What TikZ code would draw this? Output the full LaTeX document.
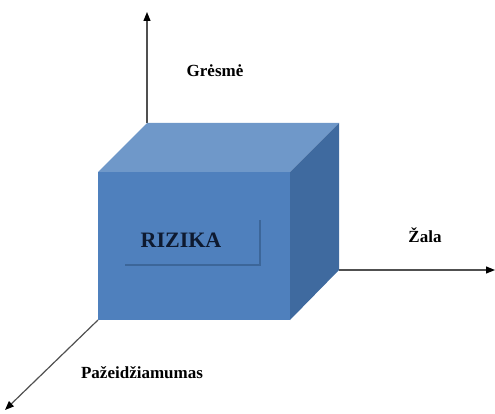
\documentclass[tikz,border=0pt]{standalone}
\usepackage{fontspec}
\setmainfont{Liberation Serif}
\usetikzlibrary{arrows.meta}
\definecolor{frontblue}{HTML}{4F80BD}
\definecolor{topblue}{HTML}{6F98C9}
\definecolor{sideblue}{HTML}{3F6A9F}
\definecolor{innerline}{HTML}{3C6699}
\definecolor{axisgray}{HTML}{505050}
\definecolor{navytext}{HTML}{0E1A30}
\tikzset{
  axis/.style={draw=axisgray, line width=1.2pt, -{Triangle[length=9pt,width=7pt,color=black]}},
  axislabel/.style={font=\fontsize{17}{20}\selectfont\bfseries, text=black, inner sep=0pt, anchor=base},
  face/.style={draw=none},
}
\begin{document}
\begin{tikzpicture}[x=1pt,y=-1pt]
\useasboundingbox (0,0) rectangle (495,414);
% cube corners
\coordinate (ftl) at (98,172);
\coordinate (ftr) at (290,172);
\coordinate (fbr) at (290,320);
\coordinate (fbl) at (98,320);
\coordinate (btl) at (147,123);
\coordinate (btr) at (339,123);
\coordinate (bbr) at (339,270);
% axis ends
\coordinate (vtip) at (147,12);
\coordinate (htip) at (495,270);
\coordinate (dtip) at (5,410);
% axes
\draw[axis] (btl) -- (vtip);
\draw[axis] (bbr) -- (htip);
\draw[axis] (fbl) -- (dtip);
% faces
\fill[face, fill=frontblue] (ftl) -- (ftr) -- (fbr) -- (fbl) -- cycle;
\fill[face, fill=topblue] (ftl) -- (btl) -- (btr) -- (ftr) -- cycle;
\fill[face, fill=sideblue] (ftr) -- (btr) -- (bbr) -- (fbr) -- cycle;
% inner label frame with shadow edges
\coordinate (ibl) at (125,265);
\coordinate (ibr) at (260,265);
\coordinate (itr) at (260,220);
\draw[innerline, line width=1.3pt] (ibl) -- (ibr) -- (itr);
\node[font=\fontsize{22}{26}\selectfont\bfseries, text=navytext, inner sep=0pt, anchor=base] (rizika) at (181,247) {RIZIKA};
% axis labels
\node[axislabel] (gresme) at (215,77) {Grėsmė};
\node[axislabel] (zala) at (425,242) {Žala};
\node[axislabel] (pazeid) at (142,378) {Pažeidžiamumas};
\end{tikzpicture}
\end{document}
